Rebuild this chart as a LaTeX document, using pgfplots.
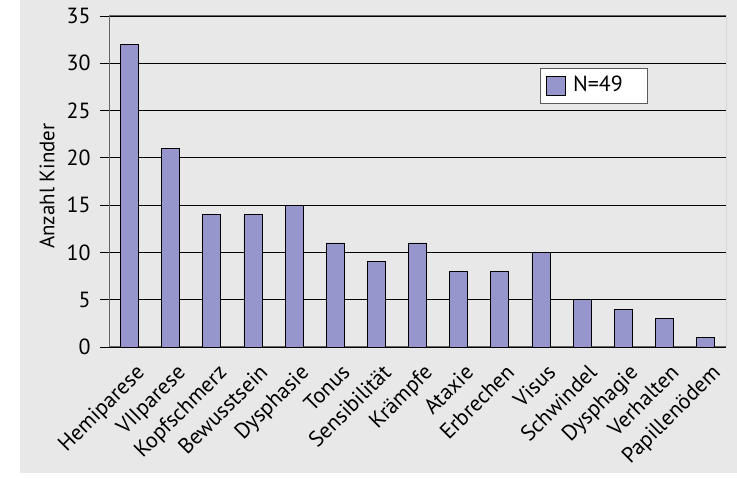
\documentclass[border=0pt]{standalone}
\usepackage{pgfplots}
\pgfplotsset{compat=1.18}
\usepackage{fontspec}
\setmainfont{PT Sans}
\definecolor{barc}{RGB}{150,150,204}
\definecolor{bg}{RGB}{232,232,232}
\begin{document}
\fontsize{22}{26}\selectfont
\begin{tikzpicture}[x=1bp,y=1bp]
\useasboundingbox (0,0) rectangle (737,478);
\fill[bg] (20,5) rectangle (737,478);
\begin{axis}[
  at={(109bp,131bp)}, anchor=south west,
  scale only axis, width=617bp, height=331bp,
  xmin=-0.5, xmax=14.5, ymin=0, ymax=35,
  ytick={0,5,...,35},
  xtick={0,...,14},
  xticklabels={Hemiparese,VIIparese,Kopfschmerz,Bewusstsein,Dysphasie,Tonus,Sensibilität,Krämpfe,Ataxie,Erbrechen,Visus,Schwindel,Dysphagie,Verhalten,Papillenödem},
  minor xtick={-0.5,0.5,...,14.5},
  tick align=outside,
  xtick style={draw=none},
  minor tick length=7bp,
  major tick length=9bp,
  every tick/.style={black, line width=0.8pt},
  minor x tick style={black, line width=0.8pt},
  ymajorgrids,
  grid style={black, line width=0.8pt},
  axis line style={gray!80!black, line width=1pt},
  axis x line*=bottom,
  axis y line*=left,
  /pgf/number format/assume math mode=true,
  tick label style={font=\fontsize{22}{26}\selectfont},
  yticklabel style={xshift=-2bp},
  xticklabel style={rotate=45, anchor=north east, xshift=6bp, yshift=-1bp},
  ylabel={Anzahl Kinder},
  ylabel style={at={(axis description cs:-0.1005,0.486)}, anchor=center, font=\fontsize{21}{26}\selectfont},
  legend style={at={(axis description cs:0.6985,0.843)}, anchor=north west,
    draw=gray!70!black, fill=white, line width=0.8pt, font=\fontsize{22}{26}\selectfont,
    inner xsep=6bp, inner ysep=6bp},
  ybar, bar width=18bp,
]
\draw[gray!80!black, line width=1pt] (rel axis cs:1,0) -- (rel axis cs:1,1) -- (rel axis cs:0,1);
\addplot[fill=barc, draw=black, line width=0.8pt,
  legend image code/.code={\draw[fill=barc, draw=black, line width=0.8pt] (0bp,-9.5bp) rectangle (19bp,9.5bp);}] coordinates {
 (0,32) (1,21) (2,14) (3,14) (4,15) (5,11) (6,9) (7,11) (8,8) (9,8) (10,10) (11,5) (12,4) (13,3) (14,1)};
\addlegendentry{\kern5bp N=49\kern17bp\null}
\end{axis}
\end{tikzpicture}
\end{document}
